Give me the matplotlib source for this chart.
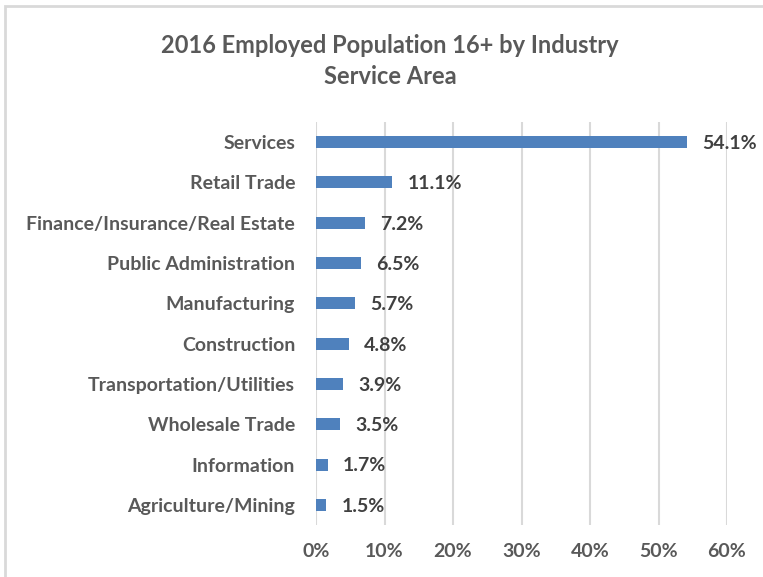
import matplotlib
matplotlib.use("Agg")
import matplotlib.pyplot as plt
from matplotlib.patches import Rectangle

categories = ["Services", "Retail Trade", "Finance/Insurance/Real Estate",
              "Public Administration", "Manufacturing", "Construction",
              "Transportation/Utilities", "Wholesale Trade", "Information",
              "Agriculture/Mining"]
values = [54.1, 11.1, 7.2, 6.5, 5.7, 4.8, 3.9, 3.5, 1.7, 1.5]
xticks = [0, 10, 20, 30, 40, 50, 60]
xtick_labels = ["0%", "10%", "20%", "30%", "40%", "50%", "60%"]
title = "2016 Employed Population 16+ by Industry\nService Area"

plt.rcParams['font.family'] = ['Lato', 'DejaVu Sans']

W, H = 763, 577
fig = plt.figure(figsize=(W / 100, H / 100), dpi=100)
fig.patch.set_facecolor("white")

# chart border (light grey, partially cropped)
fig.patches.append(Rectangle((5 / W, -0.1), 1.2, 1 - 6 / H + 0.1,
                             transform=fig.transFigure, fill=False,
                             edgecolor="#d9d9d9", linewidth=2))

ax = fig.add_axes([316 / W, 1 - 525 / H, (727 - 316) / W, (525 - 122) / H])
y = list(range(len(categories)))
ax.barh(y, values, height=0.3, color="#4F81BD", zorder=3)
ax.set_ylim(len(categories) - 0.5, -0.5)
ax.set_xlim(0, 60)
ax.set_xticks(xticks)
ax.set_xticklabels(xtick_labels)
ax.set_yticks(y)
ax.set_yticklabels(categories)
for s in ax.spines.values():
    s.set_visible(False)
ax.grid(axis="x", color="#d9d9d9", linewidth=1.5, zorder=0)
ax.tick_params(axis="both", length=0, labelsize=14, labelcolor="#595959")
ax.tick_params(axis="y", pad=15)
ax.tick_params(axis="x", pad=13)
for lab in ax.get_xticklabels() + ax.get_yticklabels():
    lab.set_fontweight("bold")

for yi, v in zip(y, values):
    ax.annotate(f"{v:.1f}%", (v, yi), xytext=(11, -1), textcoords="offset points",
                va="center", ha="left", fontsize=14, fontweight="bold",
                color="#404040")

fig.text(390 / W, 1 - 61 / H, title, ha="center", va="center", fontsize=17,
         fontweight="bold", color="#595959", linespacing=1.4)

fig.savefig("out.png", dpi=100, facecolor="white")
